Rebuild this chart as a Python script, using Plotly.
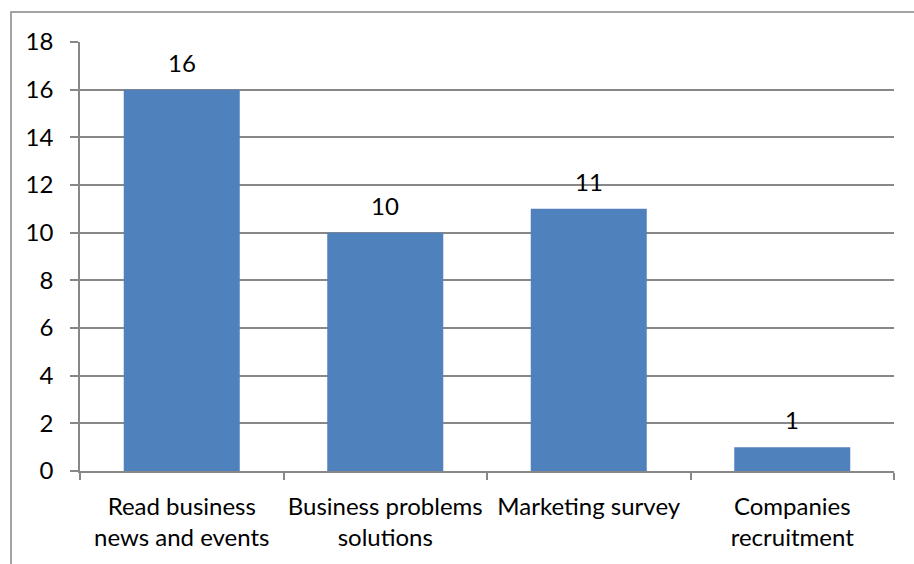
import plotly.graph_objects as go

# Survey responses: purposes for which the respondents use the service
categories = [
    "Read business<br>news and events",
    "Business problems<br>solutions",
    "Marketing survey",
    "Companies<br>recruitment",
]
counts = [16, 10, 11, 1]
y_ticks = [0, 2, 4, 6, 8, 10, 12, 14, 16, 18]

BAR_COLOR = "#4F81BD"
GRID_COLOR = "#878787"
FONT = "Lato"
FSIZE = 24

fig = go.Figure()
fig.add_trace(go.Bar(
    x=categories,
    y=counts,
    marker=dict(color=BAR_COLOR, line=dict(width=0)),
    width=0.57,
    hoverinfo="skip",
))

# value labels above each bar
for cat, val in zip(categories, counts):
    fig.add_annotation(
        x=cat, y=val, text=str(val), showarrow=False,
        yanchor="bottom", yshift=11,
        font=dict(family=FONT, size=FSIZE, color="#000000"),
    )

# outer chart frame
W, H = 914, 564
L, R, T, B = 80, 20, 42, 93
pw, ph = W - L - R, H - T - B
fig.add_shape(
    type="rect", xref="paper", yref="paper",
    x0=(11 - L) / pw, x1=(W + 20 - L) / pw,
    y0=-(H + 20 - (H - B)) / ph, y1=((H - B) - 12) / ph,
    line=dict(color="#868686", width=1.5), fillcolor="rgba(0,0,0,0)",
    layer="below",
)

fig.update_layout(
    width=W, height=H,
    margin=dict(l=L, r=R, t=T, b=B, pad=0, autoexpand=False),
    paper_bgcolor="white", plot_bgcolor="white",
    showlegend=False,
    font=dict(family=FONT, size=FSIZE, color="#000000"),
    bargap=0.43,
)
fig.update_xaxes(
    showline=True, linecolor=GRID_COLOR, linewidth=1.5,
    ticks="outside", tickson="boundaries", ticklen=7, tickwidth=1.5,
    tickcolor=GRID_COLOR, showgrid=False,
    tickangle=0, automargin=False,
    tickfont=dict(family=FONT, size=FSIZE, color="#000000"),
    ticklabelstandoff=13,
)
fig.update_yaxes(
    range=[0, 18], tickvals=y_ticks,
    showline=True, linecolor=GRID_COLOR, linewidth=1.5,
    ticks="outside", ticklen=8, tickwidth=1.5, tickcolor=GRID_COLOR,
    showgrid=True, gridcolor=GRID_COLOR, gridwidth=1.5,
    zeroline=False, automargin=False,
    tickfont=dict(family=FONT, size=FSIZE, color="#000000"),
    ticklabelstandoff=12,
)

fig.write_html("out.html")
